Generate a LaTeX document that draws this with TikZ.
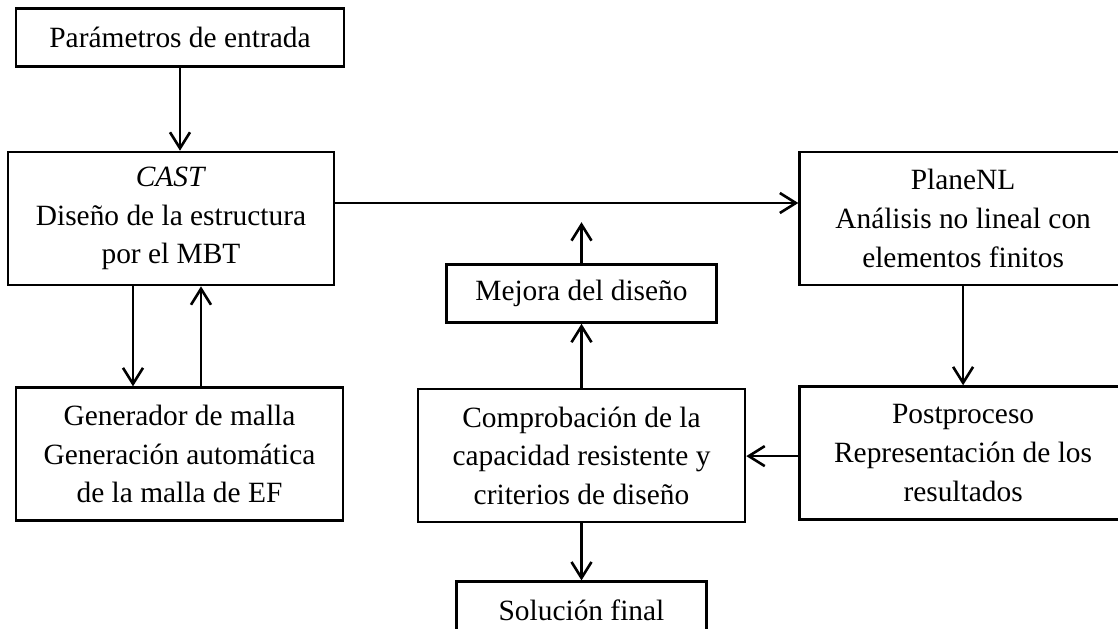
\documentclass[tikz,border=0pt]{standalone}
\usepackage{fontspec}
\setmainfont{Liberation Serif}
\usepackage{tikz}
\usetikzlibrary{positioning, calc, arrows.meta}

\begin{document}
\begin{tikzpicture}[
        font=\fontsize{14.7}{19.3}\selectfont,
        line width=1.3pt,
        block/.style={rectangle, draw=black, line width=1.3pt, minimum width=163.5pt, minimum height=66.5pt, inner sep=0pt, align=center},
        single/.style={rectangle, draw=black, line width=1.3pt, minimum height=29pt, inner sep=0pt, align=center},
        flow/.style={-{Straight Barb[length=8pt,width=10pt]}, line width=1.3pt}
    ]
        \useasboundingbox (-85.5pt,-204.75pt) rectangle (473.5pt,109.25pt);
        \clip (-85.5pt,-204.75pt) rectangle (473.5pt,109.25pt);

        % Left column
        \node[block, minimum width=163pt] (CAST) at (0,0) {\textit{CAST}\\Diseño de la estructura\\por el MBT};
        \node[single, minimum width=164pt, above=41.5pt of CAST, xshift=4.5pt] (PAR) {Parámetros de entrada};
        \node[block, below=50pt of CAST, xshift=4.25pt] (GEN) {Generador de malla\\Generación automática\\de la malla de EF};

        % Right column
        \node[block, right=231.5pt of CAST] (PLANE) {PlaneNL\\Análisis no lineal con\\elementos finitos};
        \node[block, below=49.5pt of PLANE] (POST) {Postproceso\\Representación de los\\resultados};

        % Middle column
        \node[block, left=26pt of POST, yshift=-1.25pt] (COMP) {Comprobación de la\\capacidad resistente y\\criterios de diseño};
        \node[single, minimum width=135pt, above=32pt of COMP] (MEJ) {Mejora del diseño};
        \node[single, minimum width=125pt, below=28.5pt of COMP] (SOL) {Solución final};
        \coordinate[above=20.5pt of MEJ.north] (MTOP);

        % Arrows
        \draw[flow] (PAR.south) -- (PAR.south |- CAST.north);
        \draw[flow] ([xshift=-19pt]CAST.south) -- ([xshift=-19pt]CAST.south |- GEN.north);
        \draw[flow] ([xshift=15pt]CAST.south |- GEN.north) -- ([xshift=15pt]CAST.south);
        \draw[flow] ([yshift=7.75pt]CAST.east) -- ([yshift=7.75pt]CAST.east -| PLANE.west);
        \draw[flow] (MEJ.north) -- (MTOP);
        \draw[flow] (COMP.north) -- (MEJ.south);
        \draw[flow] (PLANE.south) -- (POST.north);
        \draw[flow] ([yshift=-1.5pt]POST.west) -- ([yshift=-1.5pt]POST.west -| COMP.east);
        \draw[flow] (COMP.south) -- (SOL.north);
    \end{tikzpicture}
\end{document}
